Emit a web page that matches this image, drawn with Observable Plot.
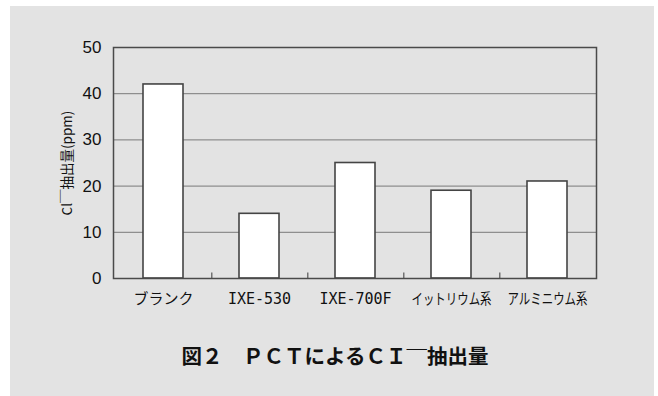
<!DOCTYPE html>
<html><head><meta charset="utf-8">
<script src="https://cdn.jsdelivr.net/npm/d3@7"></script>
<script src="https://cdn.jsdelivr.net/npm/@observablehq/plot@0.6"></script>
<style>
body{margin:0;background:#fff;}
#panel{position:absolute;left:10px;top:6px;width:644px;height:390px;background:#e3e3e3;overflow:hidden;}
#chart{position:absolute;left:0;top:0;}
#title{position:absolute;left:3px;width:644px;top:337px;text-align:center;font:bold 20.5px "Noto Sans CJK JP";line-height:24px;color:#111;}
#title .m{position:relative;top:3px;}
#chart svg g[aria-label^="x-axis"] text{font-family:"DejaVu Sans Mono","Noto Sans CJK JP";font-size:15px;fill:#111;}
#chart svg g[aria-label^="y-axis"] text{font-family:"Liberation Sans";font-size:17px;fill:#111;}
</style></head>
<body>
<div id="panel"><div id="chart"></div><div id="title">図２　ＰＣＴによるＣＩ<span class="m">￣</span>抽出量</div></div>
<script>
const categories = ["ブランク", "IXE-530", "IXE-700F", "イットリウム系", "アルミニウム系"];
const values = [42, 14, 25, 19, 21];
const yTicks = [0, 10, 20, 30, 40, 50];
const yLabel = "Cl￣抽出量(ppm)";

const data = categories.map((c, i) => ({category: c, value: values[i]}));

const chart = Plot.plot({
  width: 644,
  height: 310,
  marginLeft: 103,
  marginRight: 58,
  marginTop: 41,
  marginBottom: 38,
  style: {background: "transparent", overflow: "visible"},
  x: {domain: categories, paddingInner: 0.586, paddingOuter: 0.293, label: null, tickSize: 0, tickPadding: 15},
  y: {domain: [0, 50], ticks: yTicks, label: null, tickSize: 0, tickPadding: 12, tickFormat: d => d},
  marks: [
    Plot.ruleY(yTicks.slice(1, -1), {stroke: "#7a7a7a", strokeWidth: 1}),
    Plot.barY(data, {x: "category", y: "value", fill: "white", stroke: "#444", strokeWidth: 1.6}),
    Plot.ruleX(categories.slice(0, -1), {x: d => d, dx: 48.3, y1: 0, y2: 1.2, stroke: "#555", strokeWidth: 1.2}),
    Plot.frame({stroke: "#4a4a4a", strokeWidth: 1.5}),
    Plot.text([yLabel], {text: d => d, frameAnchor: "left", textAnchor: "middle", dx: -46, rotate: -90, fontSize: 13.5, fontFamily: "Noto Sans CJK JP", fill: "#111"})
  ]
});
document.getElementById("chart").appendChild(chart);
d3.select(chart).selectAll('g[aria-label^="y-axis"] text')
  .style("font-size", "17px").style("font-family", "Liberation Sans");
// condense over-wide category labels to a maximum width
d3.select(chart).selectAll('g[aria-label^="x-axis"] text').each(function() {
  const w = this.getComputedTextLength();
  if (w > 82) {
    this.setAttribute("textLength", 80);
    this.setAttribute("lengthAdjust", "spacingAndGlyphs");
  }
});
</script>
</body></html>
